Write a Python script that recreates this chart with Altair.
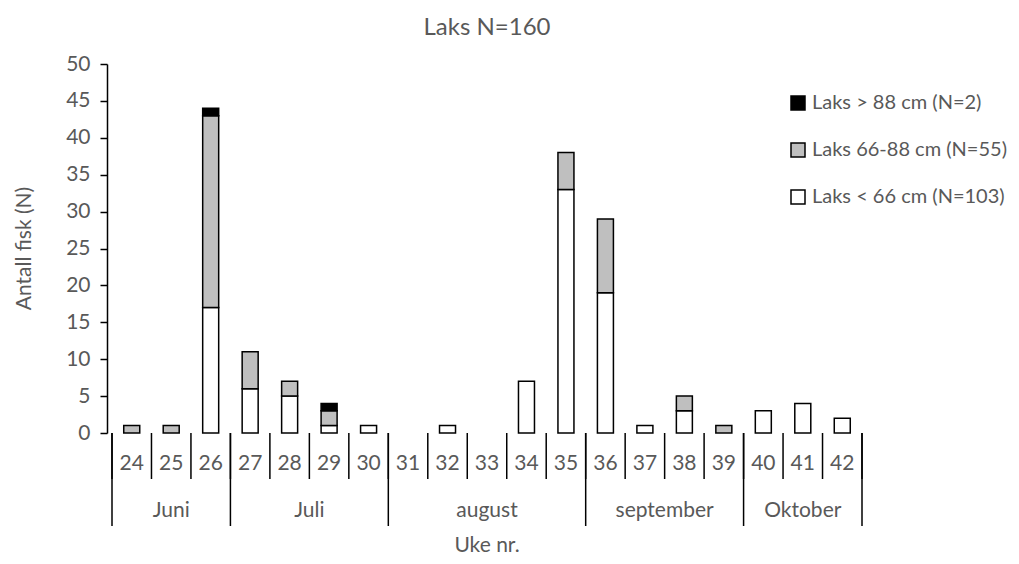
import altair as alt
import pandas as pd

weeks = list(range(24, 43))
small = [0, 0, 17, 6, 5, 1, 1, 0, 1, 0, 7, 33, 19, 1, 3, 0, 3, 4, 2]
mid = [1, 1, 26, 5, 2, 2, 0, 0, 0, 0, 0, 5, 10, 0, 2, 1, 0, 0, 0]
big = [0, 0, 1, 0, 0, 1, 0, 0, 0, 0, 0, 0, 0, 0, 0, 0, 0, 0, 0]

series_names = ["Laks > 88 cm (N=2)", "Laks 66-88 cm (N=55)", "Laks < 66 cm (N=103)"]
series_fill = ["#000000", "#BFBFBF", "#FFFFFF"]

months = ["Juni", "Juli", "august", "september", "Oktober"]
month_first = [24, 27, 31, 36, 40]
month_last = [26, 30, 35, 39, 42]

chart_title = "Laks N=160"
x_title = "Uke nr."
y_title = "Antall fisk (N)"

FONT = "Lato"
GREY = "#595959"
FS = 21

rows = []
for i, w in enumerate(weeks):
    for name, vals, order in [(series_names[2], small, 0), (series_names[1], mid, 1), (series_names[0], big, 2)]:
        if vals[i] > 0:
            rows.append({"week": w, "serie": name, "n": vals[i], "ord": order})
bars_df = pd.DataFrame(rows)

week_df = pd.DataFrame({"week": weeks})
bound_df = pd.DataFrame({"b": [w - 0.5 for w in weeks] + [weeks[-1] + 0.5]})
month_df = pd.DataFrame({
    "month": months,
    "mid": [(a + b) / 2 for a, b in zip(month_first, month_last)],
})
month_end_df = pd.DataFrame({"b": [a - 0.5 for a in month_first] + [month_last[-1] + 0.5]})
title_df = pd.DataFrame({"t": [chart_title]})
xtitle_df = pd.DataFrame({"t": [x_title]})

xscale = alt.Scale(domain=[weeks[0] - 0.5, weeks[-1] + 0.5], nice=False, zero=False)
yscale = alt.Scale(domain=[0, 50], nice=False)

bars = alt.Chart(bars_df).mark_bar(size=16, stroke="black", strokeWidth=1.5).encode(
    x=alt.X("week:Q", scale=xscale,
            axis=alt.Axis(labels=False, ticks=False, grid=False, domainColor="black", domainWidth=1.5,
                          title=None)),
    y=alt.Y("sum(n):Q", scale=yscale, stack="zero",
            axis=alt.Axis(values=list(range(0, 51, 5)), grid=False, domainColor="black", domainWidth=1.5,
                          tickColor="black", tickWidth=1.5, tickSize=7, labelPadding=10,
                          labelFont=FONT, labelFontSize=FS, labelColor=GREY,
                          title=y_title, titleFont=FONT, titleFontSize=FS, titleFontWeight="normal",
                          titleColor=GREY, titleAngle=-90, titleX=-83, titleY=184, titleAlign="center",
                          titleBaseline="middle")),
    fill=alt.Fill("serie:N", scale=alt.Scale(domain=series_names, range=series_fill),
                  legend=alt.Legend(title=None, orient="none", legendX=681, legendY=29,
                                    symbolType="square", symbolSize=196, symbolStrokeColor="black",
                                    symbolStrokeWidth=1.5, labelFont=FONT, labelFontSize=20,
                                    labelColor=GREY, rowPadding=27, labelOffset=4, labelLimit=400)),
    order=alt.Order("ord:Q", sort="ascending"),
)

week_sep = alt.Chart(bound_df).mark_rule(color="black", strokeWidth=1.5).encode(
    x=alt.X("b:Q", scale=xscale, axis=None), y=alt.value(369), y2=alt.value(415))

month_sep = alt.Chart(month_end_df).mark_rule(color="black", strokeWidth=1.5).encode(
    x=alt.X("b:Q", scale=xscale, axis=None), y=alt.value(369), y2=alt.value(462))

week_txt = alt.Chart(week_df).mark_text(font=FONT, fontSize=FS, color=GREY, baseline="middle").encode(
    x=alt.X("week:Q", scale=xscale, axis=None), y=alt.value(400), text="week:N")

month_txt = alt.Chart(month_df).mark_text(font=FONT, fontSize=FS, color=GREY, baseline="middle").encode(
    x=alt.X("mid:Q", scale=xscale, axis=None), y=alt.value(447), text="month:N")

title_txt = alt.Chart(title_df).mark_text(font=FONT, fontSize=24, color=GREY, baseline="middle").encode(
    x=alt.value(380), y=alt.value(-36), text="t:N")

xtitle_txt = alt.Chart(xtitle_df).mark_text(font=FONT, fontSize=FS, color=GREY, baseline="middle").encode(
    x=alt.value(380), y=alt.value(482), text="t:N")

chart = alt.layer(bars, week_sep, month_sep, week_txt, month_txt, title_txt, xtitle_txt).properties(
    width=760, height=369,
    autosize=alt.AutoSizeParams(type="none"),
    padding={"left": 99, "top": 56, "right": 144, "bottom": 123},
).configure_view(stroke=None)

chart.save("out.html", embed_options={"renderer": "svg", "actions": False})
